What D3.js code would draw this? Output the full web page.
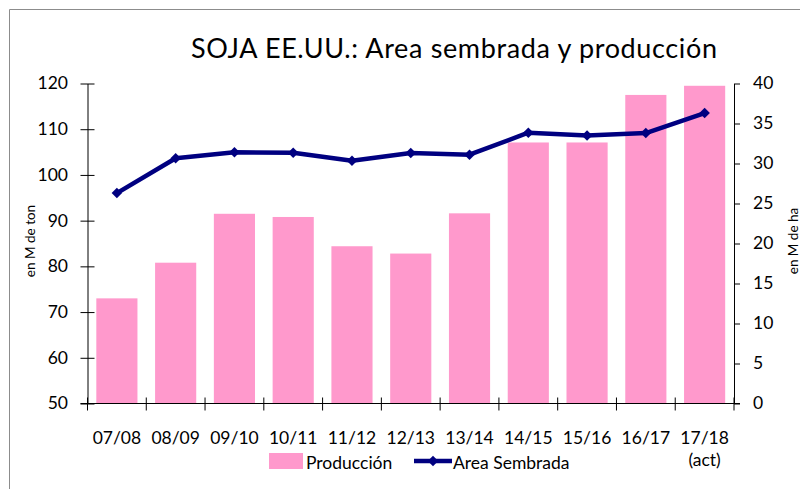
<!DOCTYPE html>
<html>
<head>
<meta charset="utf-8">
<script src="https://cdn.jsdelivr.net/npm/d3@7"></script>
<style>
  body { margin: 0; background: #fff; }
  svg { display: block; font-family: Lato, "Open Sans", sans-serif; }
</style>
</head>
<body>
<div id="svg-container"></div>
<script>
// datos
const campanas = ['07/08', '08/09', '09/10', '10/11', '11/12', '12/13', '13/14', '14/15', '15/16', '16/17', '17/18']
const produccion = [73.0, 80.8, 91.5, 90.8, 84.4, 82.8, 91.6, 107.1, 107.1, 117.5, 119.5]
const areaSembrada = [26.3, 30.65, 31.4, 31.35, 30.35, 31.3, 31.1, 33.85, 33.5, 33.8, 36.3]
const ticksIzq = [50, 60, 70, 80, 90, 100, 110, 120]
const ticksDer = [0, 5, 10, 15, 20, 25, 30, 35, 40]

const width = 800
const height = 489
const margin = { top: 83.5, right: 66, bottom: 85.5, left: 87.5 }
const innerWidth = width - margin.left - margin.right
const innerHeight = height - margin.top - margin.bottom

const svg = d3.select('#svg-container')
    .append('svg').attr('width', width).attr('height', height)

// borde del grafico (solo izquierda y arriba quedan visibles)
svg.append('path')
    .attr('d', `M9.5,${height} V9.5 H${width}`)
    .attr('fill', 'none').attr('stroke', '#8c8c8c')

// titulo
svg.append('text')
    .attr('x', 454).attr('y', 58)
    .attr('text-anchor', 'middle')
    .attr('font-size', 27)
    .attr('textLength', 526)
    .attr('fill', '#000')
    .text('SOJA EE.UU.: Area sembrada y producción')

// schalen in absolute coordinaten
const xScale = d3.scaleBand()
    .domain(campanas)
    .range([margin.left, margin.left + innerWidth])
    .paddingInner(0.3).paddingOuter(0.15)
const xEdges = d3.scaleLinear().domain([0, campanas.length]).range([margin.left, margin.left + innerWidth])
const yLeft = d3.scaleLinear().domain([50, 120]).range([margin.top + innerHeight, margin.top])
const yRight = d3.scaleLinear().domain([0, 40]).range([margin.top + innerHeight, margin.top])
const xMid = c => xScale(c) + xScale.bandwidth() / 2
const baseY = yLeft(50)

// barras
svg.selectAll('rect.bar').data(produccion)
    .enter().append('rect')
    .attr('class', 'bar')
    .attr('x', (d, i) => xScale(campanas[i]))
    .attr('y', d => yLeft(d))
    .attr('width', xScale.bandwidth())
    .attr('height', d => baseY - yLeft(d))
    .attr('fill', '#ff99cc')

// eje izquierdo (lineas), etiquetas aparte
const axisLeft = svg.append('g')
    .attr('transform', `translate(${margin.left}, 0)`)
    .call(d3.axisLeft(yLeft).tickValues(ticksIzq).tickSize(7).tickFormat('').tickSizeOuter(0))
axisLeft.selectAll('.tick line').attr('x2', 7).attr('x1', -7)
axisLeft.select('.domain').attr('stroke', '#000')
svg.selectAll('text.tl').data(ticksIzq)
    .enter().append('text')
    .attr('class', 'tl')
    .attr('x', 68).attr('y', d => yLeft(d)).attr('dy', '0.34em')
    .attr('text-anchor', 'end')
    .attr('font-size', 17.5)
    .text(d => d)

// eje derecho
const axisRight = svg.append('g')
    .attr('transform', `translate(${margin.left + innerWidth}, 0)`)
    .call(d3.axisRight(yRight).tickValues(ticksDer).tickSize(6).tickFormat('').tickSizeOuter(0))
axisRight.select('.domain').attr('stroke', '#000')
svg.selectAll('text.tr').data(ticksDer)
    .enter().append('text')
    .attr('class', 'tr')
    .attr('x', margin.left + innerWidth + 19).attr('y', d => yRight(d)).attr('dy', '0.34em')
    .attr('font-size', 17.5)
    .text(d => d)

// eje x
svg.append('line')
    .attr('x1', margin.left - 7).attr('x2', margin.left + innerWidth + 6)
    .attr('y1', baseY).attr('y2', baseY)
    .attr('stroke', '#000')
svg.selectAll('line.xtick').data(d3.range(campanas.length + 1))
    .enter().append('line')
    .attr('class', 'xtick')
    .attr('x1', d => xEdges(d)).attr('x2', d => xEdges(d))
    .attr('y1', baseY - 6).attr('y2', baseY + 7)
    .attr('stroke', '#000')
svg.selectAll('text.lbl').data(campanas)
    .enter().append('text')
    .attr('class', 'lbl')
    .attr('x', d => xMid(d))
    .attr('y', baseY + 40)
    .attr('text-anchor', 'middle')
    .attr('font-size', 17.5)
    .text(d => d)
svg.append('text')
    .attr('x', xMid('17/18'))
    .attr('y', baseY + 62)
    .attr('text-anchor', 'middle')
    .attr('font-size', 17.5)
    .text('(act)')

// titulos de ejes
svg.append('text')
    .attr('transform', 'translate(35, 241) rotate(-90)')
    .attr('text-anchor', 'middle')
    .attr('font-size', 13.5)
    .text('en M de ton')
svg.append('text')
    .attr('transform', 'translate(798, 241) rotate(-90)')
    .attr('text-anchor', 'middle')
    .attr('font-size', 13.5)
    .text('en M de ha')

// linea area sembrada
const line = d3.line()
    .x((d, i) => xMid(campanas[i]))
    .y(d => yRight(d))
svg.append('path')
    .datum(areaSembrada)
    .attr('d', line)
    .attr('fill', 'none')
    .attr('stroke', '#000080')
    .attr('stroke-width', 4.5)
    .attr('stroke-linejoin', 'round')
svg.selectAll('path.marker').data(areaSembrada)
    .enter().append('path')
    .attr('class', 'marker')
    .attr('d', d3.symbol().type(d3.symbolDiamond2).size(70))
    .attr('transform', (d, i) => `translate(${xMid(campanas[i])}, ${yRight(d)})`)
    .attr('fill', '#000080')

// leyenda
const legend = svg.append('g')
legend.append('rect')
    .attr('x', 269).attr('y', 453).attr('width', 34).attr('height', 16)
    .attr('fill', '#ff99cc')
legend.append('text')
    .attr('x', 306).attr('y', 469)
    .attr('font-size', 17.5)
    .text('Producción')
legend.append('line')
    .attr('x1', 414).attr('x2', 452).attr('y1', 461).attr('y2', 461)
    .attr('stroke', '#000080').attr('stroke-width', 4.5)
legend.append('path')
    .attr('d', d3.symbol().type(d3.symbolDiamond2).size(70))
    .attr('transform', 'translate(433, 461)')
    .attr('fill', '#000080')
legend.append('text')
    .attr('x', 453).attr('y', 469)
    .attr('font-size', 17.5)
    .text('Area Sembrada')
</script>
</body>
</html>
